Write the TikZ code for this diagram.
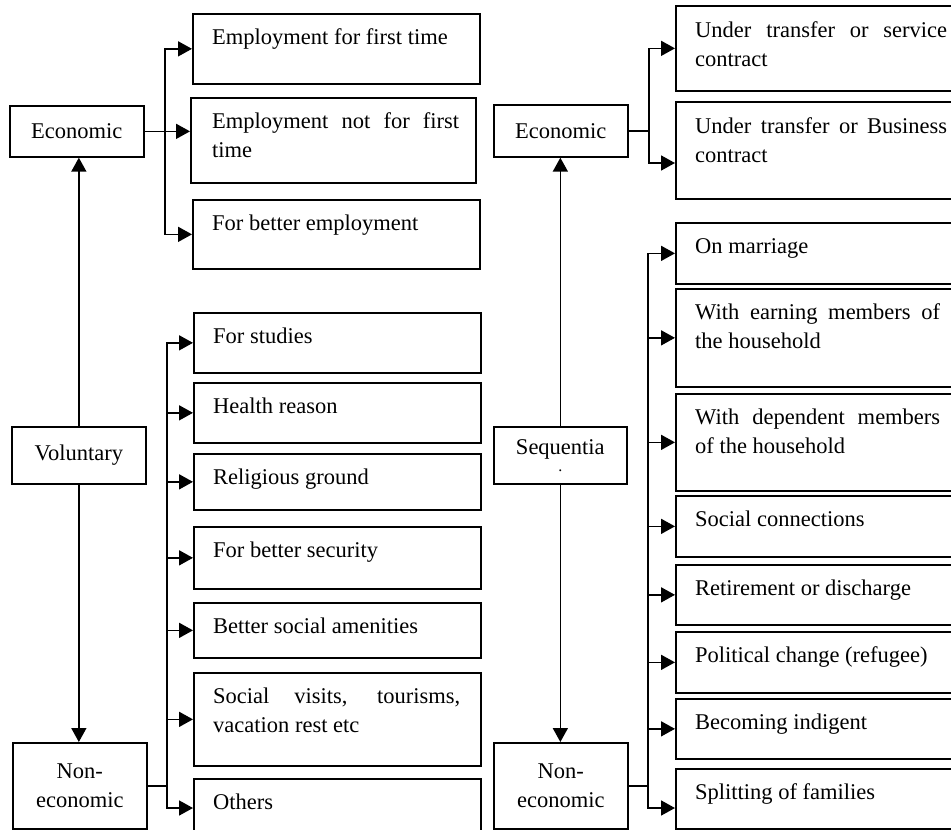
\documentclass[tikz,border=0pt]{standalone}
\usepackage{fontspec}
\setmainfont{Liberation Serif}
\usetikzlibrary{arrows.meta,calc}
\newcommand\dgfont{\fontsize{22.5}{29}\selectfont\hyphenpenalty=10000 \exhyphenpenalty=10000 \tolerance=10000 }
\begin{document}
\begin{tikzpicture}[x=1pt,y=-1pt,
  every node/.style={font=\dgfont},
  cbox/.style={draw, line width=1.7pt, anchor=north west, inner sep=0pt, minimum width=287pt},
  rbox/.style={cbox, minimum width=300pt},
  hbox/.style={draw, line width=1.7pt, anchor=north west, inner sep=0pt, align=center, minimum width=134pt},
  ltxt/.style={anchor=base west, inner sep=0pt, text width=247pt, align=justify},
  rtxt/.style={ltxt, text width=245pt},
  conn/.style={line width=1.7pt},
  brk/.style={line width=1.7pt, line cap=rect},
  arr/.style={line width=1.7pt, -{Triangle[length=14pt,width=15pt]}}]
\fill[white] (0,0) rectangle (951,830);
\useasboundingbox (0,0) rectangle (951,830);

% ---------- left column heads ----------
\node[hbox, minimum height=51pt] (lE) at (9,105) {Economic};
\node[hbox, minimum height=57pt] (lV) at (11,426) {Voluntary};
\node[hbox, minimum height=86pt] (lN) at (12,742) {Non-\\economic};

% ---------- left economic children ----------
\node[cbox, minimum height=70pt] (l1) at (192,13) {};
\node[cbox, minimum height=85pt, minimum width=285pt] (l2) at (190,97) {};
\node[cbox, minimum height=69pt] (l3) at (192,199) {};
\node[ltxt] (tl1) at ($(l1.north west)+(20,31)$) {Employment for first time};
\node[ltxt] (tl2) at ($(l2.north west)+(22,31)$) {Employment not for first time};
\node[ltxt] (tl3) at ($(l3.north west)+(20,31)$) {For better employment};

% ---------- left non-economic children ----------
\node[cbox, minimum height=60pt] (m1) at (193,312) {};
\node[cbox, minimum height=60pt] (m2) at (193,382) {};
\node[cbox, minimum height=56pt] (m3) at (193,453) {};
\node[cbox, minimum height=62pt] (m4) at (193,526) {};
\node[cbox, minimum height=55pt] (m5) at (193,602) {};
\node[cbox, minimum height=93pt] (m6) at (193,672) {};
\node[cbox, minimum height=70pt] (m7) at (193,778) {};
\node[ltxt] (tm1) at ($(m1.north west)+(20,31)$) {For studies};
\node[ltxt] (tm2) at ($(m2.north west)+(20,31)$) {Health reason};
\node[ltxt] (tm3) at ($(m3.north west)+(20,31)$) {Religious ground};
\node[ltxt] (tm4) at ($(m4.north west)+(20,31)$) {For better security};
\node[ltxt] (tm5) at ($(m5.north west)+(20,31)$) {Better social amenities};
\node[ltxt] (tm6) at ($(m6.north west)+(20,31)$) {Social visits, tourisms, vacation rest etc};
\node[ltxt] (tm7) at ($(m7.north west)+(20,31)$) {Others};

% ---------- right column heads ----------
\node[hbox, minimum height=52pt] (rE) at (493,104) {Economic};
\node[hbox, minimum height=57pt, minimum width=133pt] (rS) at (493,426) {Sequentia\\[-12pt]{\fontsize{16}{16}\selectfont .}};
\node[hbox, minimum height=86pt] (rN) at (493,742) {Non-\\economic};

% ---------- right economic children ----------
\node[rbox, minimum height=85pt] (r1) at (675,5) {};
\node[rbox, minimum height=97pt] (r2) at (675,101) {};
\node[rtxt, text width=252pt] (tr1) at ($(r1.north west)+(20,32)$) {Under transfer or service contract};
\node[rtxt, text width=252pt] (tr2) at ($(r2.north west)+(20,32)$) {Under transfer or Business contract};

% ---------- right non-economic children ----------
\node[rbox, minimum height=61pt] (s1) at (675,222) {};
\node[rbox, minimum height=98pt] (s2) at (675,288) {};
\node[rbox, minimum height=97pt] (s3) at (675,393) {};
\node[rbox, minimum height=61pt] (s4) at (675,495) {};
\node[rbox, minimum height=60pt] (s5) at (675,564) {};
\node[rbox, minimum height=61pt] (s6) at (675,631) {};
\node[rbox, minimum height=60pt] (s7) at (675,698) {};
\node[rbox, minimum height=60pt] (s8) at (675,768) {};
\node[rtxt] (ts1) at ($(s1.north west)+(20,31)$) {On marriage};
\node[rtxt] (ts2) at ($(s2.north west)+(20,31)$) {With earning members of the household};
\node[rtxt] (ts3) at ($(s3.north west)+(20,31)$) {With dependent members of the household};
\node[rtxt] (ts4) at ($(s4.north west)+(20,31)$) {Social connections};
\node[rtxt] (ts5) at ($(s5.north west)+(20,31)$) {Retirement or discharge};
\node[rtxt] (ts6) at ($(s6.north west)+(20,31)$) {Political change (refugee)};
\node[rtxt] (ts7) at ($(s7.north west)+(20,31)$) {Becoming indigent};
\node[rtxt] (ts8) at ($(s8.north west)+(20,31)$) {Splitting of families};

% ---------- left connectors ----------
\draw[arr] (lV.north) -- (lV.north |- lE.south);
\draw[arr] (lV.south) -- (lV.south |- lN.north);
\coordinate (lbx) at (165,0);
\draw[arr] (lE.east) -- (lE.east -| l2.west);
\draw[brk] (l1.west -| lbx) -- (l3.west -| lbx);
\draw[arr] (l1.west -| lbx) -- (l1.west);
\draw[arr] (l3.west -| lbx) -- (l3.west);

\coordinate (lnb) at (167,808);
\draw[conn] (lN.east) -- (lN.east -| lnb);
\draw[brk] (m1.west -| lnb) -- (lnb);
\foreach \b in {m1,m2,m3,m4,m5,m6}
  \draw[arr] (\b.west -| lnb) -- (\b.west);
\draw[arr] (lnb) -- (lnb -| m7.west);

% ---------- right connectors ----------
\draw[arr] (rS.north) -- (rS.north |- rE.south);
\draw[arr] (rS.south) -- (rS.south |- rN.north);
\coordinate (rbe) at (649,163);
\draw[conn] (rE.east) -- (rE.east -| rbe);
\draw[brk] (r1.west -| rbe) -- (rbe);
\draw[arr] (r1.west -| rbe) -- (r1.west);
\draw[arr] (rbe) -- (rbe -| r2.west);

\coordinate (rnb) at (648,808);
\draw[conn] (rN.east) -- (rN.east -| rnb);
\draw[brk] (s1.west -| rnb) -- (rnb);
\foreach \b in {s1,s2,s3,s4,s5,s6,s7}
  \draw[arr] (\b.west -| rnb) -- (\b.west);
\draw[arr] (rnb) -- (rnb -| s8.west);
\end{tikzpicture}
\end{document}
